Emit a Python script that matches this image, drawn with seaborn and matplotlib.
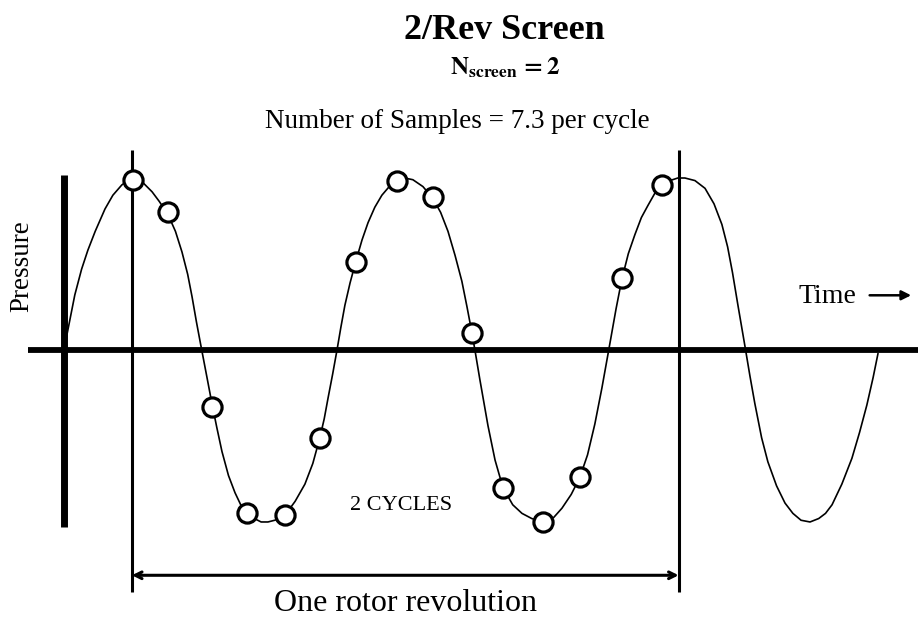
import numpy as np
import pandas as pd
import matplotlib
matplotlib.use("Agg")
import matplotlib.pyplot as plt
import seaborn as sns

# pressure trace (time in cycles, pressure normalised to amplitude)
curve_time = [0.000, 0.020, 0.040, 0.065, 0.088, 0.115, 0.151, 0.180, 0.213, 0.235,
              0.254, 0.280, 0.305, 0.324, 0.350, 0.382, 0.410, 0.434, 0.455, 0.471,
              0.487, 0.503, 0.526, 0.544, 0.562, 0.581, 0.605, 0.629, 0.650, 0.673,
              0.700, 0.725, 0.750, 0.775, 0.795, 0.813, 0.850, 0.886, 0.915, 0.941,
              0.957, 0.971, 0.988, 1.004, 1.018, 1.033, 1.052, 1.074, 1.096, 1.118,
              1.143, 1.169, 1.196, 1.224, 1.253, 1.283, 1.320, 1.357, 1.385, 1.412,
              1.438, 1.463, 1.482, 1.500, 1.511, 1.529, 1.559, 1.585, 1.614, 1.650,
              1.684, 1.720, 1.761, 1.800, 1.831, 1.865, 1.897, 1.925, 1.952, 1.978,
              2.003, 2.030, 2.051, 2.075, 2.099, 2.123, 2.147, 2.172, 2.199, 2.228,
              2.257, 2.283, 2.320, 2.357, 2.390, 2.419, 2.440, 2.458, 2.478, 2.504,
              2.522, 2.540, 2.565, 2.588, 2.620, 2.651, 2.680, 2.710, 2.743, 2.775,
              2.800, 2.824, 2.860, 2.897, 2.925, 2.952, 2.975, 2.993]
curve_pressure = [0.00, 0.16, 0.32, 0.47, 0.58, 0.69, 0.82, 0.90, 0.96, 0.985,
                  1.00, 0.99, 0.95, 0.92, 0.865, 0.79, 0.69, 0.57, 0.44, 0.31,
                  0.165, 0.03, -0.16, -0.31, -0.45, -0.59, -0.73, -0.83, -0.90, -0.94,
                  -0.98, -1.00, -1.00, -0.99, -0.98, -0.96, -0.88, -0.78, -0.66, -0.51,
                  -0.40, -0.28, -0.14, 0.00, 0.13, 0.26, 0.39, 0.52, 0.64, 0.74,
                  0.83, 0.90, 0.95, 0.98, 1.00, 0.99, 0.95, 0.88, 0.80, 0.69,
                  0.55, 0.40, 0.25, 0.10, 0.00, -0.17, -0.44, -0.64, -0.80, -0.90,
                  -0.95, -0.98, -1.00, -0.975, -0.92, -0.84, -0.74, -0.61, -0.43, -0.22,
                  0.00, 0.24, 0.41, 0.56, 0.67, 0.77, 0.84, 0.91, 0.955, 0.985,
                  1.00, 1.00, 0.985, 0.94, 0.85, 0.73, 0.60, 0.45, 0.26, 0.02,
                  -0.15, -0.31, -0.51, -0.65, -0.79, -0.89, -0.95, -0.99, -1.00, -0.98,
                  -0.95, -0.90, -0.78, -0.63, -0.48, -0.32, -0.16, -0.02]

# sampled points (circles)
sample_time = [0.254, 0.382, 0.544, 0.673, 0.813, 0.941, 1.074, 1.224,
               1.357, 1.500, 1.614, 1.761, 1.897, 2.051, 2.199]
sample_pressure = [0.99, 0.80, -0.33, -0.95, -0.96, -0.51, 0.51, 0.98,
                   0.89, 0.10, -0.80, -1.00, -0.74, 0.42, 0.96]

rev_start, rev_end = 0.25, 2.26

curve = pd.DataFrame({"time": curve_time, "pressure": curve_pressure})
samples = pd.DataFrame({"time": sample_time, "pressure": sample_pressure})

sns.set_style("white")
plt.rcParams["font.family"] = ["Liberation Serif", "DejaVu Serif"]
plt.rcParams["mathtext.fontset"] = "stix"
plt.rcParams["text.color"] = "black"

fig = plt.figure(figsize=(9.18, 6.2), dpi=100)
ax = fig.add_axes([0, 0, 1, 1])
ax.set_xlim(-0.235, 3.140)
ax.set_ylim(-1.570, 2.035)
ax.axis("off")

# axes of the sketch
ax.plot([-0.132, 3.2], [0, 0], color="black", lw=4.2, solid_capstyle="butt", zorder=1)
ax.plot([0, 0], [-1.03, 1.02], color="black", lw=5, solid_capstyle="butt", zorder=1)
for t in (rev_start, rev_end):
    ax.plot([t, t], [-1.407, 1.163], color="black", lw=2.2, solid_capstyle="butt", zorder=1)

sns.lineplot(data=curve, x="time", y="pressure", ax=ax, color="black", lw=1.2,
             sort=False, zorder=2)
ax.lines[-1].set_solid_joinstyle("round")
sns.scatterplot(data=samples, x="time", y="pressure", ax=ax, s=190, marker="o",
                facecolor="white", edgecolor="black", linewidth=2.3, zorder=3)
ax.set_xlabel("")
ax.set_ylabel("")

# text
ax.text(1.621, 1.86, "2/Rev Screen", ha="center", va="center", fontsize=26, fontweight="bold")
ax.text(1.621, 1.64, r"$\mathbf{N}_{\mathbf{screen}}\,\mathbf{= 2}$", ha="center", va="center",
        fontsize=18)
ax.text(1.445, 1.326, "Number of Samples = 7.3 per cycle", ha="center", va="center", fontsize=19.5)
ax.text(-0.154, 0.49, "Pressure", ha="center", va="center", rotation=90, fontsize=19.5)
ax.text(2.699, 0.31, "Time", ha="left", va="center", fontsize=20)
ax.annotate("", xy=(3.125, 0.318), xytext=(2.952, 0.318),
            arrowprops=dict(arrowstyle="-|>", color="black", lw=1.8, mutation_scale=14))
ax.text(1.239, -0.903, "2 CYCLES", ha="center", va="center", fontsize=16)
ax.annotate("", xy=(rev_end, -1.31), xytext=(rev_start, -1.31),
            arrowprops=dict(arrowstyle="<->", color="black", lw=2.2, mutation_scale=12,
                            shrinkA=0, shrinkB=0))
ax.text((rev_start + rev_end) / 2, -1.475, "One rotor revolution", ha="center", va="center",
        fontsize=23)

fig.savefig("out.png", dpi=100)
